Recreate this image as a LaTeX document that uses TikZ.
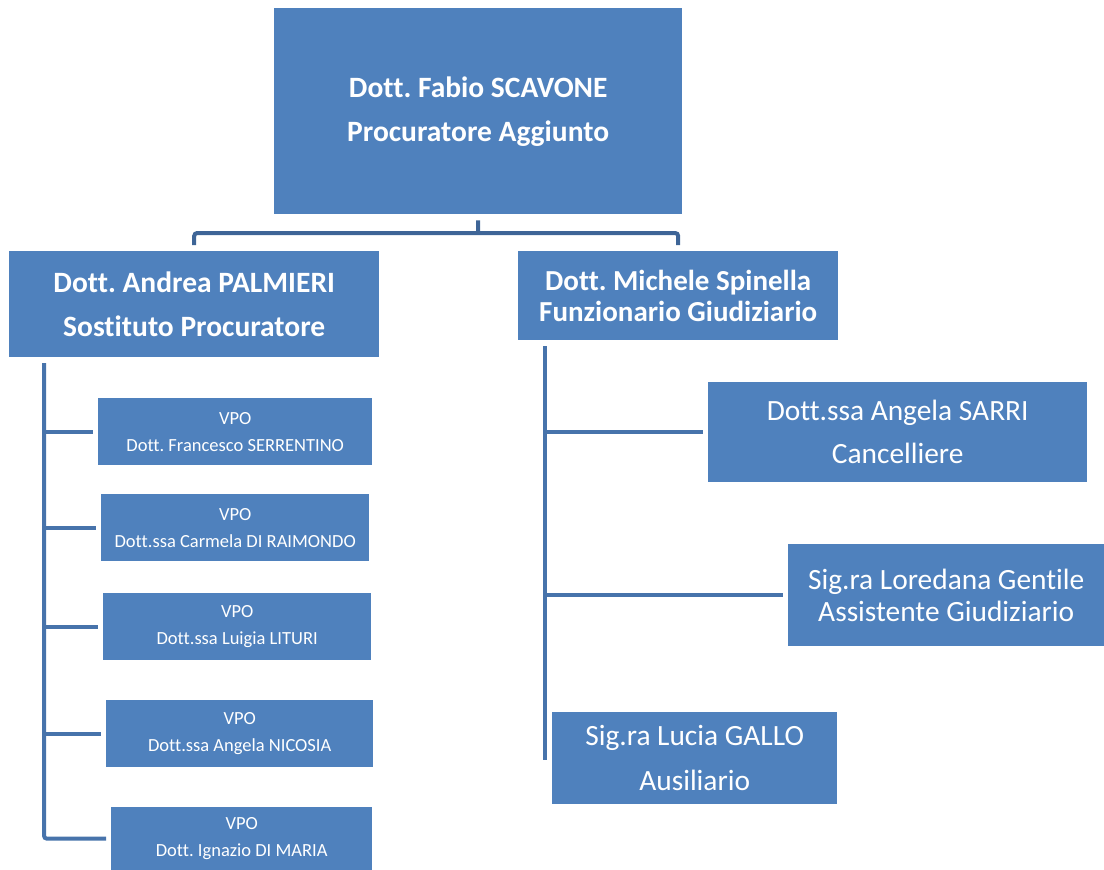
\documentclass[tikz,border=0pt]{standalone}
\usepackage{fontspec}
\setmainfont{Carlito}[Ligatures={NoCommon}]
\frenchspacing
\begin{document}
\begin{tikzpicture}[x=1pt,y=-1pt,
  box/.style={fill=boxblue,text=white,inner sep=0pt,anchor=north west,align=center},
  headfont/.style={font=\bfseries\fontsize{29.5}{44}\selectfont},
  vpofont/.style={font=\fontsize{18.5}{27}\selectfont},
  staff/.style={font=\fontsize{29.4}{43}\selectfont},
  link/.style={draw=linkblue,line width=4pt},
  toplink/.style={draw=topblue,line width=4pt,rounded corners=3pt}]
\definecolor{boxblue}{HTML}{4F81BD}
\definecolor{linkblue}{HTML}{4773AB}
\definecolor{topblue}{HTML}{3E6597}
\useasboundingbox (0,0) rectangle (1104,870);

% head of the office
\node[box,headfont,minimum width=408pt,minimum height=206pt] (top) at (274,8)
  {Dott. Fabio SCAVONE\\Procuratore Aggiunto};

% second level
\node[box,headfont,minimum width=370pt,minimum height=106pt] (andrea) at (9,251)
  {Dott. Andrea PALMIERI\\Sostituto Procuratore};
\node[box,font=\bfseries\fontsize{29}{31}\selectfont,minimum width=320pt,minimum height=89pt] (michele) at (518,251)
  {Dott. Michele Spinella\\Funzionario Giudiziario};

% VPO column
\node[box,vpofont,minimum width=274pt,minimum height=67pt] (v1) at (98,398)
  {VPO\\Dott. Francesco SERRENTINO};
\node[box,vpofont,minimum width=268pt,minimum height=67pt] (v2) at (101,494)
  {VPO\\Dott.ssa Carmela DI RAIMONDO};
\node[box,vpofont,minimum width=268pt,minimum height=67pt] (v3) at (103,593)
  {VPO\\Dott.ssa Luigia LITURI};
\node[box,vpofont,minimum width=267pt,minimum height=67pt] (v4) at (106,700)
  {VPO\\Dott.ssa Angela NICOSIA};
\node[box,vpofont,minimum width=261pt,minimum height=63pt] (v5) at (111,807)
  {VPO\\Dott. Ignazio DI MARIA};

% staff column
\node[box,staff,minimum width=379pt,minimum height=100pt] (sarri) at (708,382)
  {Dott.ssa Angela SARRI\\Cancelliere};
\node[box,font=\fontsize{29.4}{32}\selectfont,minimum width=316pt,minimum height=102pt] (gentile) at (788,544)
  {Sig.ra Loredana Gentile\\Assistente Giudiziario};
\node[box,font=\fontsize{29.4}{45}\selectfont,minimum width=285pt,minimum height=92pt] (gallo) at (552,712)
  {Sig.ra Lucia GALLO\\Ausiliario};

% top-level bracket
\coordinate (bus) at (478,233);
\draw[toplink] ([yshift=6pt]andrea.north) |- (bus) -| ([yshift=6pt]michele.north);
\draw[toplink] ([yshift=-6pt]top.south) -- (bus);

% left spine and branches
\coordinate (lspine) at (44,363);
\draw[link,rounded corners=3pt] (lspine) |- ([xshift=-5pt]v5.west);
\foreach \v in {v1,v2,v3,v4}
  \draw[link] (lspine |- \v.west) -- ([xshift=-5pt]\v.west);

% right spine and branches
\coordinate (rspine) at (545,346);
\coordinate (rend) at (545,760);
\draw[link] (rspine) -- (rend);
\foreach \v in {sarri,gentile}
  \draw[link] (rspine |- \v.west) -- ([xshift=-5pt]\v.west);
\end{tikzpicture}
\end{document}
